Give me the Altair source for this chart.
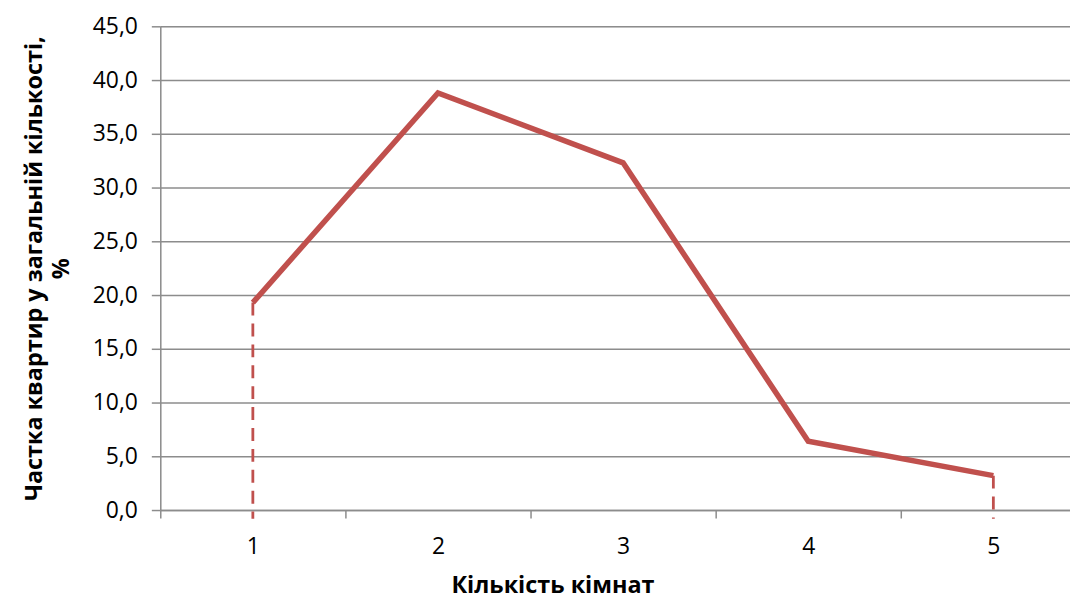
import altair as alt
import pandas as pd

rooms = [1, 2, 3, 4, 5]
shares = [19.3, 38.8, 32.3, 6.4, 3.2]
y_ticks = [0, 5, 10, 15, 20, 25, 30, 35, 40, 45]
x_tick_positions = [0.5, 1.5, 2.5, 3.5, 4.5]

df = pd.DataFrame({"rooms": rooms, "share": shares})
drops = pd.DataFrame({
    "rooms": [rooms[0], rooms[-1]],
    "share": [shares[0], shares[-1]],
    "bottom": [-0.8, -0.8],
})

RED = "#C0504D"
GRAY = "#8C8C8C"
FONT = "Open Sans"

x_scale = alt.Scale(domain=[0.5, 5.414], nice=False, zero=False)
y_scale = alt.Scale(domain=[0, 45], nice=False)

x_axis = alt.Axis(
    values=x_tick_positions,
    labelExpr="format(datum.value + 0.5, 'd')",
    labelOffset=93,
    labelFlush=False,
    labelFont=FONT, labelFontSize=23, labelColor="#000000", labelPadding=18,
    tickSize=8, tickColor=GRAY, tickWidth=1.5,
    domainColor=GRAY, domainWidth=1.5,
    grid=False,
    title="Кількість кімнат",
    titleFont=FONT, titleFontSize=23.5, titleFontWeight="bold", titleColor="#000000",
    titleX=394, titleY=76, titleBaseline="middle", titleAlign="center",
)

y_axis = alt.Axis(
    values=y_ticks,
    labelExpr="replace(format(datum.value, '.1f'), '.', ',')",
    labelFont=FONT, labelFontSize=23, labelColor="#000000", labelPadding=14,
    labelFlush=False,
    tickSize=9, tickColor=GRAY, tickWidth=1.5,
    domainColor=GRAY, domainWidth=1.5,
    grid=True, gridColor=GRAY, gridWidth=1.5,
    title=["Частка квартир у загальній кількості,", "%"],
    titleFont=FONT, titleFontSize=23.5, titleFontWeight="bold", titleColor="#000000",
    titleLineHeight=27,
    titleX=-126, titleY=243, titleAngle=-90, titleAlign="center", titleBaseline="middle",
)

line = alt.Chart(df).mark_line(color=RED, strokeWidth=5.5).encode(
    x=alt.X("rooms:Q", scale=x_scale, axis=x_axis),
    y=alt.Y("share:Q", scale=y_scale, axis=y_axis),
)

drop = alt.Chart(drops).mark_rule(color=RED, strokeWidth=2.8, strokeDash=[13, 8]).encode(
    x=alt.X("rooms:Q", scale=x_scale),
    y=alt.Y("share:Q", scale=y_scale),
    y2="bottom:Q",
)

chart = alt.layer(drop, line).properties(
    width=914,
    height=486,
    autosize=alt.AutoSizeParams(type="none"),
    padding={"left": 153, "top": 17, "right": 0, "bottom": 92},
).configure_view(stroke=None).configure(background="white")

chart.save("out.html", embed_options={"renderer": "svg", "actions": False})
